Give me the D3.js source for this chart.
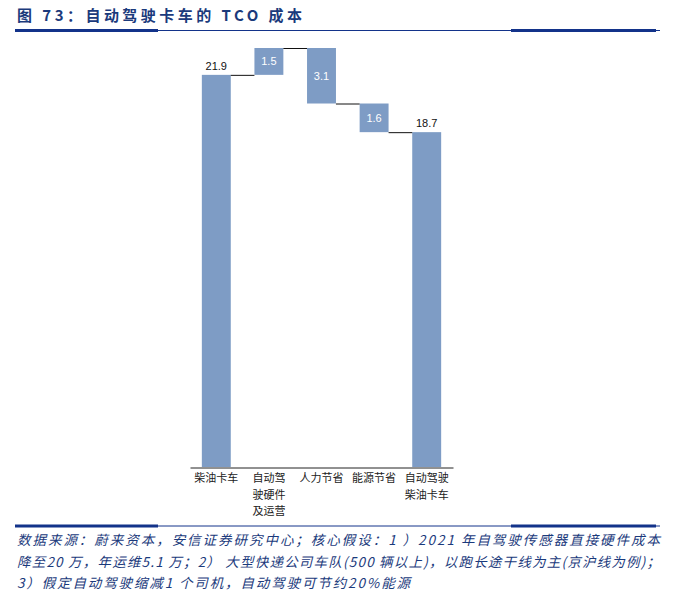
<!DOCTYPE html>
<html>
<head>
<meta charset="utf-8">
<script src="https://cdn.jsdelivr.net/npm/d3@7"></script>
<style>
  html, body { margin: 0; padding: 0; background: #ffffff; }
  svg { display: block; }
</style>
</head>
<body>
<svg id="chart" width="676" height="603"></svg>
<script>
// ---- data ----
const categories = ["柴油卡车", "自动驾驶硬件及运营", "人力节省", "能源节省", "自动驾驶柴油卡车"];
const categoryLabelLines = [["柴油卡车"], ["自动驾", "驶硬件", "及运营"], ["人力节省"], ["能源节省"], ["自动驾驶", "柴油卡车"]];
const values = [21.9, 1.5, -3.1, -1.6, 18.7];
const barTypes = ["total", "delta", "delta", "delta", "total"];
const valueLabels = ["21.9", "1.5", "3.1", "1.6", "18.7"];
const titleText = "图 73：自动驾驶卡车的 TCO 成本";
const sourceLines = [
  "数据来源：蔚来资本，安信证券研究中心；核心假设：1 ）2021 年自驾驶传感器直接硬件成本",
  "降至20 万，年运维5.1 万；2） 大型快递公司车队(500 辆以上)，以跑长途干线为主(京沪线为例)；",
  "3）假定自动驾驶缩减1 个司机，自动驾驶可节约20%能源"
];

// ---- waterfall computation ----
let running = 0;
const bars = categories.map((c, i) => {
  let start, end;
  if (barTypes[i] === "total") { start = 0; end = values[i]; running = values[i]; }
  else { start = running; end = running + values[i]; running = end; }
  return { cat: c, lines: categoryLabelLines[i], type: barTypes[i], start, end, label: valueLabels[i] };
});

const svg = d3.select("#chart");
const navy = "#13338a";
const titleColor = "#1b3a7c";
const barColor = "#7e9cc5";

// title
svg.append("text")
  .attr("x", 17).attr("y", 21)
  .attr("font-family", "'Noto Sans CJK SC', sans-serif")
  .attr("font-weight", "bold")
  .attr("font-size", 15)
  .attr("fill", titleColor)
  .attr("textLength", 285)
  .attr("lengthAdjust", "spacing")
  .text(titleText);

// rules
function rule(y) {
  svg.append("line").attr("x1", 15).attr("x2", 660).attr("y1", y).attr("y2", y)
    .attr("stroke", navy).attr("stroke-width", 1);
  svg.append("line").attr("x1", 15).attr("x2", 158).attr("y1", y).attr("y2", y)
    .attr("stroke", navy).attr("stroke-width", 3);
  svg.append("line").attr("x1", 511).attr("x2", 656).attr("y1", y).attr("y2", y)
    .attr("stroke", navy).attr("stroke-width", 3);
}
rule(30.5);
rule(526);

// scales
const x = d3.scaleBand().domain(categories).range([190, 453]).paddingInner(0.45).paddingOuter(0.225);
const yMax = d3.max(bars, d => Math.max(d.start, d.end));
const y = d3.scaleLinear().domain([0, yMax]).range([467, 48]);

// bars
svg.append("g").selectAll("rect").data(bars).join("rect")
  .attr("x", d => x(d.cat))
  .attr("width", x.bandwidth())
  .attr("y", d => y(Math.max(d.start, d.end)))
  .attr("height", d => Math.abs(y(d.start) - y(d.end)))
  .attr("fill", barColor);

// connectors
svg.append("g").selectAll("line").data(bars.slice(0, -1)).join("line")
  .attr("x1", (d) => x(d.cat) + x.bandwidth())
  .attr("x2", (d, i) => x(categories[i + 1]))
  .attr("y1", d => y(d.end) + 0.5)
  .attr("y2", d => y(d.end) + 0.5)
  .attr("stroke", "#111")
  .attr("stroke-width", 1);

// axis line
svg.append("g")
  .attr("transform", "translate(0,467.5)")
  .call(d3.axisBottom(x).tickSize(0).tickSizeOuter(0).tickFormat(""))
  .call(g => g.select(".domain").attr("stroke", "#222").attr("stroke-width", 1));

// value labels
svg.append("g").selectAll("text").data(bars).join("text")
  .attr("x", d => x(d.cat) + x.bandwidth() / 2)
  .attr("y", d => d.type === "total" ? y(d.end) - 5 : (y(d.start) + y(d.end)) / 2 + 4)
  .attr("text-anchor", "middle")
  .attr("font-family", "'Liberation Sans', Arial, sans-serif")
  .attr("font-size", 11)
  .attr("fill", d => d.type === "total" ? "#111" : "#ffffff")
  .text(d => d.label);

// category labels
const catG = svg.append("g").selectAll("text").data(bars).join("text")
  .attr("text-anchor", "middle")
  .attr("font-family", "'Noto Sans CJK SC', sans-serif")
  .attr("font-size", 11)
  .attr("fill", "#222");
catG.selectAll("tspan").data(d => d.lines.map(l => ({ l, d }))).join("tspan")
  .attr("x", o => x(o.d.cat) + x.bandwidth() / 2)
  .attr("y", (o, i) => 482 + i * 16.5)
  .text(o => o.l);

// source note
const sourceWidths = [643, 643, 393];
svg.append("g").selectAll("text").data(sourceLines).join("text")
  .attr("x", 17)
  .attr("y", (d, i) => 545 + i * 21.5)
  .attr("font-family", "'Noto Sans CJK SC', sans-serif")
  .attr("font-style", "italic")
  .attr("font-size", 13.5)
  .attr("fill", titleColor)
  .attr("textLength", (d, i) => sourceWidths[i])
  .attr("lengthAdjust", "spacing")
  .text(d => d);
</script>
</body>
</html>
